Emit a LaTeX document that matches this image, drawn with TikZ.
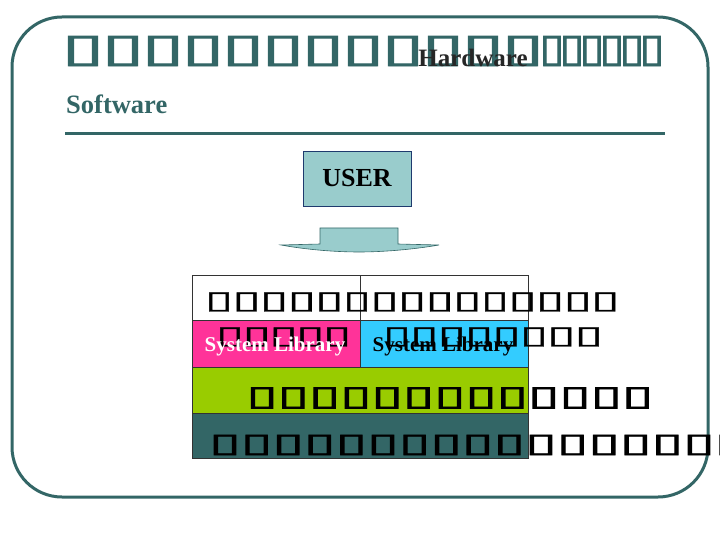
\documentclass[tikz,border=0pt]{standalone}
\usepackage{fontspec}
\usepackage{graphicx}
\setmainfont{Liberation Serif}
\newfontfamily\symf{DejaVu Sans}[FakeBold=1]
\newfontfamily\symfm{DejaVu Sans}[FakeBold=2]
\newfontfamily\symft{DejaVu Sans}[FakeBold=2.5]
\definecolor{teal}{HTML}{336666}
\definecolor{userfill}{HTML}{99CCCC}
\definecolor{pinkc}{HTML}{FF3399}
\definecolor{cyanc}{HTML}{33CCFF}
\definecolor{greenc}{HTML}{99CC00}
\definecolor{navy}{HTML}{1F3A6E}
% n, pitch, width, height, font
\newcommand\tofurow[5]{\foreach \k in {1,...,#1}{\makebox[#2pt][c]{\resizebox*{#3pt}{#4pt}{#5\bfseries ▯}}}}
\tikzset{
  frame/.style={draw=teal, line width=3pt},
  tofutext/.style={anchor=west, inner sep=0pt, outer sep=0pt},
  band/.style={draw=black!80, line width=0.6pt},
  lbl/.style={inner sep=0pt, font=\bfseries}
}
\begin{document}
\begin{tikzpicture}[x=1pt,y=-1pt]
\useasboundingbox (0,0) rectangle (720,540);
% outer frame
\draw[frame, rounded corners=50pt] (12,17) rectangle (708,497);
% title
\node[tofutext, text=teal] (t1) at (63,51) {\tofurow{12}{40}{42}{30}{\symft}};
\node[tofutext, text=teal] (t2) at (542,51) {\tofurow{6}{20}{25}{30}{\symft}};
\node[lbl, font=\bfseries\fontsize{25}{25}\selectfont, text=black!85] (hw) at (473,58) {Hardware};
\node[lbl, anchor=west, font=\bfseries\fontsize{26.5}{26.5}\selectfont, text=teal] (sw) at (66,104) {Software};
\draw[teal, line width=3pt] (65,134) -- (665,134);
% USER
\node[draw=navy, line width=0.6pt, fill=userfill, minimum width=108pt, minimum height=55pt, inner sep=0pt,
  font=\bfseries\fontsize{26}{26}\selectfont] (user) at (357,178.5) {USER};
% block arrow
\draw[draw=teal, fill=userfill, line width=0.6pt]
  (320,228) -- (398,228) -- (398,244) -- (439,245)
  .. controls (410,250) and (380,252) .. (359,252)
  .. controls (338,252) and (308,250) .. (281,245)
  -- (320,244) -- cycle;
% layers
\draw[band, fill=white] (192,275) rectangle (360,320);
\draw[band, fill=white] (360,275) rectangle (528,320);
\draw[band, fill=pinkc] (192,320) rectangle (360,367);
\draw[band, fill=cyanc] (360,320) rectangle (528,367);
\draw[band, fill=greenc] (192,367) rectangle (528,413);
\draw[band, fill=teal] (192,413) rectangle (528,458);
% texts in layers
\node[tofutext] (r1) at (205.2,302) {\tofurow{15}{27.6}{29}{19}{\symf}};
\node[tofutext] (r2a) at (216.6,337) {\tofurow{5}{26.8}{29}{19}{\symf}};
\node[tofutext] (r2b) at (383.3,337) {\tofurow{8}{27.4}{29}{19}{\symf}};
\node[lbl, font=\bfseries\fontsize{21}{21}\selectfont, text=white] (sl1) at (275,346) {System Library};
\node[lbl, font=\bfseries\fontsize{21}{21}\selectfont, text=black] (sl2) at (443,346) {System Library};
\node[tofutext] (r3) at (246.4,398) {\tofurow{13}{31.3}{32}{21}{\symfm}};
\node[tofutext] (r4) at (209.2,445) {\tofurow{17}{31.6}{32}{20}{\symfm}};
\end{tikzpicture}
\end{document}
